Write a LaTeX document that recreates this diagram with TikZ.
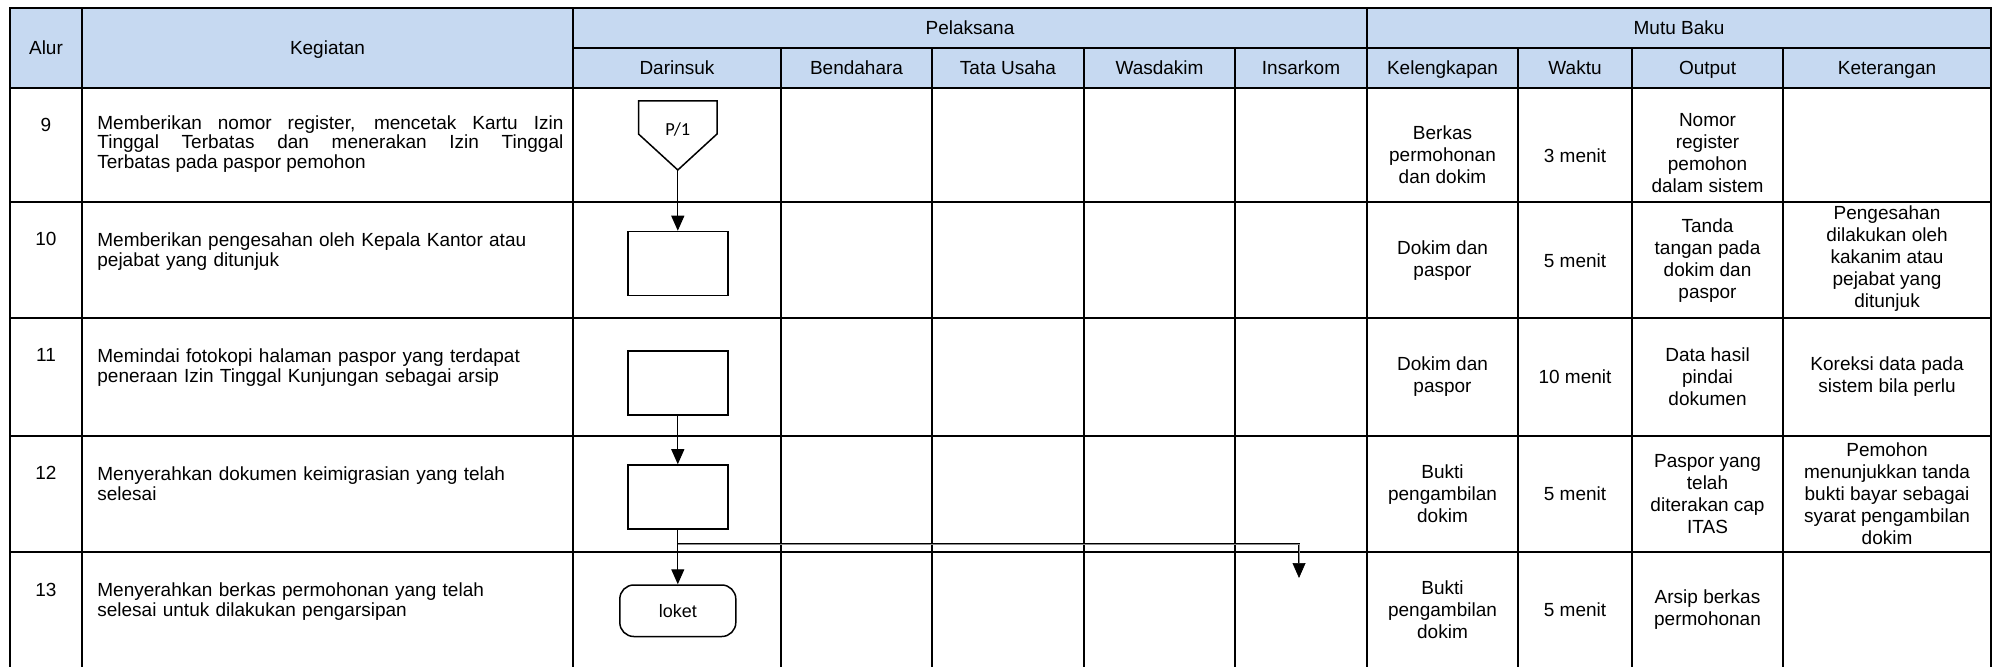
\documentclass[tikz,border=0pt]{standalone}
\usepackage{fontspec}
\setmainfont{Liberation Sans}
\newfontfamily\symfont{Carlito}
\usepackage{tikz}
\usetikzlibrary{arrows.meta,positioning,calc}
\definecolor{hdrblue}{HTML}{C6D9F1}

\begin{document}
\begin{tikzpicture}[x=0.5pt,y=-0.5pt,
  grid/.style={line width=1pt,line cap=rect},
  hd/.style={anchor=base,inner sep=0pt,font=\fontsize{9.5}{11}\selectfont},
  mb/.style={align=center,inner sep=0pt,font=\fontsize{9.5}{11}\selectfont},
  keg/.style={anchor=north west,inner sep=0pt,text width=233pt,align=left,font=\fontsize{9.5}{10}\selectfont},
  proc/.style={draw,line width=0.75pt,minimum width=50pt,minimum height=32pt,inner sep=0pt},
  arr/.style={-{Triangle[length=7.5pt,width=6.5pt]},line width=0.6pt}]
\useasboundingbox (0,0) rectangle (2000,667);
\fill[white] (0,0) rectangle (2000,667);
\fill[hdrblue] (10,8) rectangle (1991,88);
% table lines
\draw[grid] (10,8) -- (1991,8);
\draw[grid] (573,48) -- (1991,48);
\foreach \y in {88,202,318,436,552} \draw[grid] (10,\y) -- (1991,\y);
\foreach \x in {10,82,573,1367,1991} \draw[grid] (\x,8) -- (\x,667);
\foreach \x in {781,932,1084,1235,1518,1632,1783} \draw[grid] (\x,48) -- (\x,667);
% header
\node[hd] (hAlur) at (46,55) {Alur};
\node[hd] (hKeg) at (327.5,55) {Kegiatan};
\node[hd] (hPel) at (970,35) {Pelaksana};
\node[hd] (hMutu) at (1679,35) {Mutu Baku};
\foreach \x/\id/\name in {677/dar/Darinsuk,856.5/ben/Bendahara,1008/tu/Tata Usaha,1159.5/was/Wasdakim,1301/ins/Insarkom,1442.5/kel/Kelengkapan,1575/wak/Waktu,1707.5/out/Output,1887/ket/Keterangan}
  \node[hd] (h\id) at (\x,75) {\name};
% alur numbers
\foreach \n/\y in {9/132,10/246,11/362,12/480,13/596}
  \node[hd] (n\n) at (46,\y) {\n};
% kegiatan
\node[keg,align=justify,font=\fontsize{9.5}{8}\selectfont] (k9) at (97,115)
  {\setlength{\lineskiplimit}{-10pt}Memberikan nomor register, mencetak Kartu Izin\linebreak Tinggal Terbatas dan menerakan Izin Tinggal\linebreak Terbatas pada paspor pemohon};
\node[keg] (k10) at (97,232) {Memberikan pengesahan oleh Kepala Kantor atau\\pejabat yang ditunjuk};
\node[keg] (k11) at (97,348) {Memindai fotokopi halaman paspor yang terdapat\\peneraan Izin Tinggal Kunjungan sebagai arsip};
\node[keg] (k12) at (97,466) {Menyerahkan dokumen keimigrasian yang telah\\selesai};
\node[keg] (k13) at (97,582) {Menyerahkan berkas permohonan yang telah\\selesai untuk dilakukan pengarsipan};
% mutu baku
\node[mb] (kel9) at (1442.5,155) {Berkas\\permohonan\\dan dokim};
\node[mb] (wak9) at (1575,156) {3 menit};
\node[mb] (out9) at (1707.5,153) {Nomor\\register\\pemohon\\dalam sistem};
\node[mb] (kel10) at (1442.5,261) {Dokim dan\\paspor};
\node[mb] (wak10) at (1575,261) {5 menit};
\node[mb] (out10) at (1707.5,261) {Tanda\\tangan pada\\dokim dan\\paspor};
\node[mb] (ket10) at (1887,259) {Pengesahan\\dilakukan oleh\\kakanim atau\\pejabat yang\\ditunjuk};
\node[mb] (kel11) at (1442.5,377) {Dokim dan\\paspor};
\node[mb] (wak11) at (1575,377) {10 menit};
\node[mb] (out11) at (1707.5,377) {Data hasil\\pindai\\dokumen};
\node[mb] (ket11) at (1887,377) {Koreksi data pada\\sistem bila perlu};
\node[mb] (kel12) at (1442.5,494) {Bukti\\pengambilan\\dokim};
\node[mb] (wak12) at (1575,494) {5 menit};
\node[mb] (out12) at (1707.5,494) {Paspor yang\\telah\\diterakan cap\\ITAS};
\node[mb] (ket12) at (1887,494) {Pemohon\\menunjukkan tanda\\bukti bayar sebagai\\syarat pengambilan\\dokim};
\node[mb] (kel13) at (1442.5,610) {Bukti\\pengambilan\\dokim};
\node[mb] (wak13) at (1575,610) {5 menit};
\node[mb] (out13) at (1707.5,610) {Arsip berkas\\permohonan};
% darinsuk flow
\draw[line width=0.75pt,line join=miter] (638.5,101) -- (717,101) -- (717,134) -- (677.8,170) -- (638.5,134) -- cycle;
\node[inner sep=0pt,font=\symfont\fontsize{9.2}{10}\selectfont] (p1) at (677.8,130) {P/1};
\coordinate (p1tip) at (677.8,170);
\node[proc] (box10) at (677.8,263.5) {};
\node[proc] (box11) at (677.8,383) {};
\node[proc] (box12) at (677.8,497) {};
\node[draw,line width=0.75pt,rounded corners=7pt,minimum width=58pt,minimum height=25.75pt,inner sep=0pt,font=\fontsize{9}{10}\selectfont] (loket) at (677.8,610.75) {loket};
\coordinate (fork) at (677.8,544);
\coordinate (insEnd) at (1299,578);
\draw[arr] (p1tip) -- (box10.north);
\draw[arr] (box11.south) -- (box12.north);
\draw[arr] (box12.south) -- (loket.north);
\draw[arr,line width=0.35pt,double=black!45,double distance=0.5pt] (fork) -| (insEnd);
\end{tikzpicture}
\end{document}
